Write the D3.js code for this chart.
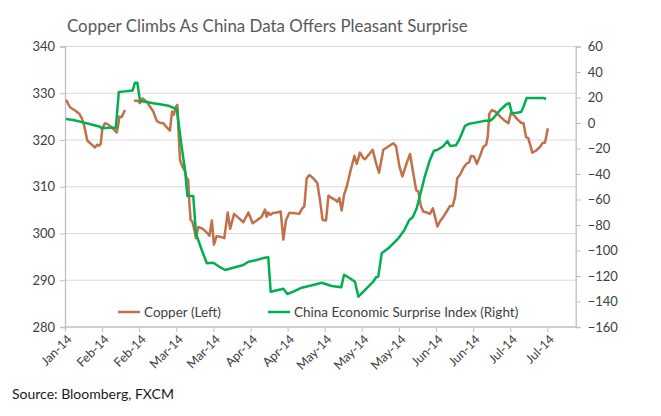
<!DOCTYPE html>
<html><head><meta charset="utf-8">
<script src="https://cdn.jsdelivr.net/npm/d3@7"></script>
<style>body{margin:0;background:#fff;} svg{display:block;}</style>
</head><body>
<svg id="chart" width="661" height="416"></svg>
<script>
const title = "Copper Climbs As China Data Offers Pleasant Surprise";
const source = "Source: Bloomberg, FXCM";
const tickLabels = ["Jan-14","Feb-14","Feb-14","Mar-14","Mar-14","Apr-14","Apr-14","May-14","May-14","May-14","Jun-14","Jun-14","Jul-14","Jul-14"];
const tickDays = [0,14,28,42,56,70,84,98,112,126,140,154,168,182];
const leftTicks = [280,290,300,310,320,330,340];
const rightTicks = [-160,-140,-120,-100,-80,-60,-40,-20,0,20,40,60];
const seriesNames = ["Copper (Left)","China Economic Surprise Index (Right)"];

// Copper: day offset and value (null = gap)
const copperDay = [0.4,1.9,3.8,5.4,6.3,7.2,8.4,10.1,11.3,12.2,12.9,13.5,14.1,15.1,16.1,17.6,18.9,19.5,20.1,20.5,21.4,22.6,24.3,
26.0,27.4,28.3,29.3,30.8,32.1,33.3,34.6,35.8,37.1,38.4,39.6,40.4,41.1,41.8,42.4,42.8,43.4,44.3,45.3,45.9,46.5,46.9,47.4,48.0,48.8,49.4,
50.3,52.0,53.5,54.5,55.4,56.2,57.2,58.5,60.1,61.4,62.3,63.8,65.4,67.3,69.2,70.8,72.6,74.2,75.5,76.1,76.7,77.4,78.6,79.9,81.4,82.4,83.4,
84.6,86.2,88.4,89.3,90.3,91.2,92.2,93.7,95.2,96.2,97.2,98.5,99.4,100.6,101.9,102.8,103.5,104.4,105.3,106.3,107.5,109.2,110.1,111.3,
112.6,113.2,114.5,116.1,117.4,118.5,120.1,122.0,123.9,124.9,126.2,127.3,128.9,130.2,131.4,132.5,133.3,134.3,135.2,136.5,137.7,138.8,
139.6,140.5,141.5,142.8,144.0,145.3,146.3,147.2,148.0,149.1,150.3,151.6,152.5,153.2,154.3,155.4,156.6,157.8,158.9,159.5,160.1,161.0,
162.3,164.2,166.0,167.3,168.2,169.2,170.7,172.1,173.0,174.0,174.8,175.5,176.3,177.7,179.2,180.3,181.1,182.2];
const copperVal = [328.6,327.0,326.3,325.6,324.7,323.2,319.9,319.0,318.4,319.0,318.8,319.2,322.5,323.6,323.4,322.7,322.0,321.6,323.2,325.0,324.9,326.4,null,
328.4,328.4,327.9,328.9,328.2,327.1,326.1,324.1,323.7,323.6,322.7,322.0,326.1,325.4,327.1,327.5,322.2,315.7,314.3,313.3,311.8,311.5,306.8,302.9,302.6,300.8,299.0,
301.4,301.0,300.2,299.5,302.8,297.6,299.4,299.3,299.0,304.5,301.0,304.2,303.4,302.4,304.5,302.2,302.9,303.6,305.1,303.6,304.5,304.0,304.4,304.5,304.7,298.7,302.9,
304.4,304.4,304.2,305.2,305.8,311.8,312.5,311.8,310.8,307.2,302.9,302.8,308.1,307.6,307.2,306.8,307.6,304.9,308.3,310.0,312.9,316.6,314.9,317.3,
316.1,315.9,316.8,317.9,315.0,313.0,317.9,318.6,319.3,318.7,314.3,312.2,315.0,317.0,312.9,309.3,309.0,305.8,304.7,304.5,304.2,305.4,
303.6,301.5,302.6,303.6,304.7,305.9,305.9,307.9,311.8,312.6,314.0,315.0,315.2,316.6,316.5,314.9,316.6,318.5,319.0,320.7,325.6,326.4,
326.1,325.0,324.1,323.6,325.7,325.4,324.4,323.7,323.6,320.6,320.4,319.0,317.3,317.7,318.5,319.4,319.4,322.5];

// China Economic Surprise Index
const chinaDay = [0.4,3.1,6.9,10.7,13.2,13.8,16.7,19.2,20.3,22.6,25.5,26.4,27.3,28.3,30.2,33.3,35.8,39.0,42.2,44.0,45.3,46.2,48.4,49.4,
51.6,53.5,56.0,58.2,60.4,64.2,67.3,69.2,72.3,75.5,76.7,77.6,79.2,82.4,83.9,86.2,89.3,92.5,96.9,100.6,104.2,105.3,106.9,109.4,110.7,
113.8,116.3,117.4,118.2,119.5,122.0,125.8,127.9,129.9,131.2,132.7,134.0,135.8,137.7,139.2,140.5,142.8,144.3,145.3,147.5,149.0,150.9,
152.2,155.4,158.5,160.4,161.6,164.2,166.7,167.7,168.6,170.5,172.1,173.0,174.2,178.0,180.5,181.5];
const chinaVal = [3.1,2.4,0.5,-1.6,-2.9,-4.2,-3.7,-3.7,24.3,24.8,25.4,31.6,31.6,17.5,16.7,15.5,14.7,13.6,10.7,-18.6,-36.9,-57.3,-57.3,-86.5,
-99.6,-110.0,-109.6,-112.7,-115.3,-113.2,-111.4,-108.8,-107.5,-105.6,-105.3,-132.3,-131.5,-130.0,-134.1,-132.3,-129.2,-127.6,-125.3,-127.8,-128.9,-119.0,-121.0,-124.5,-136.2,
-129.7,-124.5,-121.0,-120.5,-102.2,-98.3,-90.4,-84.5,-76.1,-74.0,-66.9,-56.5,-41.6,-29.0,-21.7,-21.2,-18.0,-14.1,-18.0,-17.5,-12.0,-2.4,
-0.8,0.5,1.8,1.8,3.7,10.2,14.9,15.5,7.6,8.1,8.6,12.8,19.6,19.6,19.6,18.8];

const copperColor = "#c0714a", chinaColor = "#00b050";
const font = "Lato, 'Open Sans', sans-serif";

const svg = d3.select("#chart");
const plot = {left: 65, right: 575.7, top: 46.5, bottom: 327};

const x = d3.scaleLinear().domain([0, 192.7]).range([plot.left, plot.right]);
const yL = d3.scaleLinear().domain([280, 340]).range([plot.bottom, plot.top]);
const yR = d3.scaleLinear().domain([-160, 60]).range([plot.bottom, plot.top]);

// title
const t = svg.append("text").attr("x", 67).attr("y", 32).attr("fill", "#595959")
  .style("font-family", font).style("font-size", "18px").text(title);
// fit title width to ~401px
const tw = t.node().getComputedTextLength();
t.style("font-size", (18 * 401 / tw).toFixed(2) + "px");

// gridlines
svg.append("g").selectAll("line").data(leftTicks.filter(d => d > 280)).join("line")
  .attr("x1", plot.left).attr("x2", plot.right)
  .attr("y1", d => yL(d)).attr("y2", d => yL(d))
  .attr("stroke", "#d9d9d9").attr("stroke-width", 1);

// axes
const axisColor = "#bfbfbf";
const gL = svg.append("g").attr("transform", `translate(${plot.left},0)`)
  .call(d3.axisLeft(yL).tickValues(leftTicks).tickSize(5).tickPadding(5));
const gR = svg.append("g").attr("transform", `translate(${plot.right},0)`)
  .call(d3.axisRight(yR).tickValues(rightTicks).tickSize(5).tickPadding(7));
const gB = svg.append("g").attr("transform", `translate(0,${plot.bottom})`)
  .call(d3.axisBottom(x).tickValues(tickDays).tickSize(5).tickFormat((d, i) => tickLabels[i]));
[gL, gR, gB].forEach(g => {
  g.select(".domain").attr("stroke", axisColor).attr("stroke-width", 1.3);
  g.selectAll(".tick line").attr("stroke", axisColor);
  g.selectAll("text").attr("fill", "#404040").style("font-family", font).style("font-size", "13px");
});
gB.select(".domain").attr("d", `M${plot.left},0H${plot.right}`);
gB.selectAll("text")
  .attr("text-anchor", "end").attr("dy", "0.35em")
  .attr("transform", "translate(4,10) rotate(-45)")
  .attr("x", 0).attr("y", 0).style("font-size", "12.5px");

// lines
const copperData = copperDay.map((d, i) => ({d, v: copperVal[i]}));
const chinaData = chinaDay.map((d, i) => ({d, v: chinaVal[i]}));
svg.append("path").datum(copperData)
  .attr("fill", "none").attr("stroke", copperColor).attr("stroke-width", 2.5).attr("stroke-linejoin", "round")
  .attr("d", d3.line().defined(p => p.v !== null).x(p => x(p.d)).y(p => yL(p.v)));
svg.append("path").datum(chinaData)
  .attr("fill", "none").attr("stroke", chinaColor).attr("stroke-width", 2.5).attr("stroke-linejoin", "round")
  .attr("d", d3.line().x(p => x(p.d)).y(p => yR(p.v)));

// legend
const legend = [{name: seriesNames[0], color: copperColor, x: 118}, {name: seriesNames[1], color: chinaColor, x: 268}];
const lg = svg.append("g");
legend.forEach(l => {
  lg.append("line").attr("x1", l.x).attr("x2", l.x + 22).attr("y1", 312).attr("y2", 312)
    .attr("stroke", l.color).attr("stroke-width", 2.5);
  lg.append("text").attr("x", l.x + 26).attr("y", 312).attr("dy", "0.35em")
    .attr("fill", "#404040").style("font-family", font).style("font-size", "13.5px").text(l.name);
});

// source
svg.append("text").attr("x", 12).attr("y", 399).attr("fill", "#1a1a1a")
  .style("font-family", font).style("font-size", "14px").text(source);
</script>
</body></html>
